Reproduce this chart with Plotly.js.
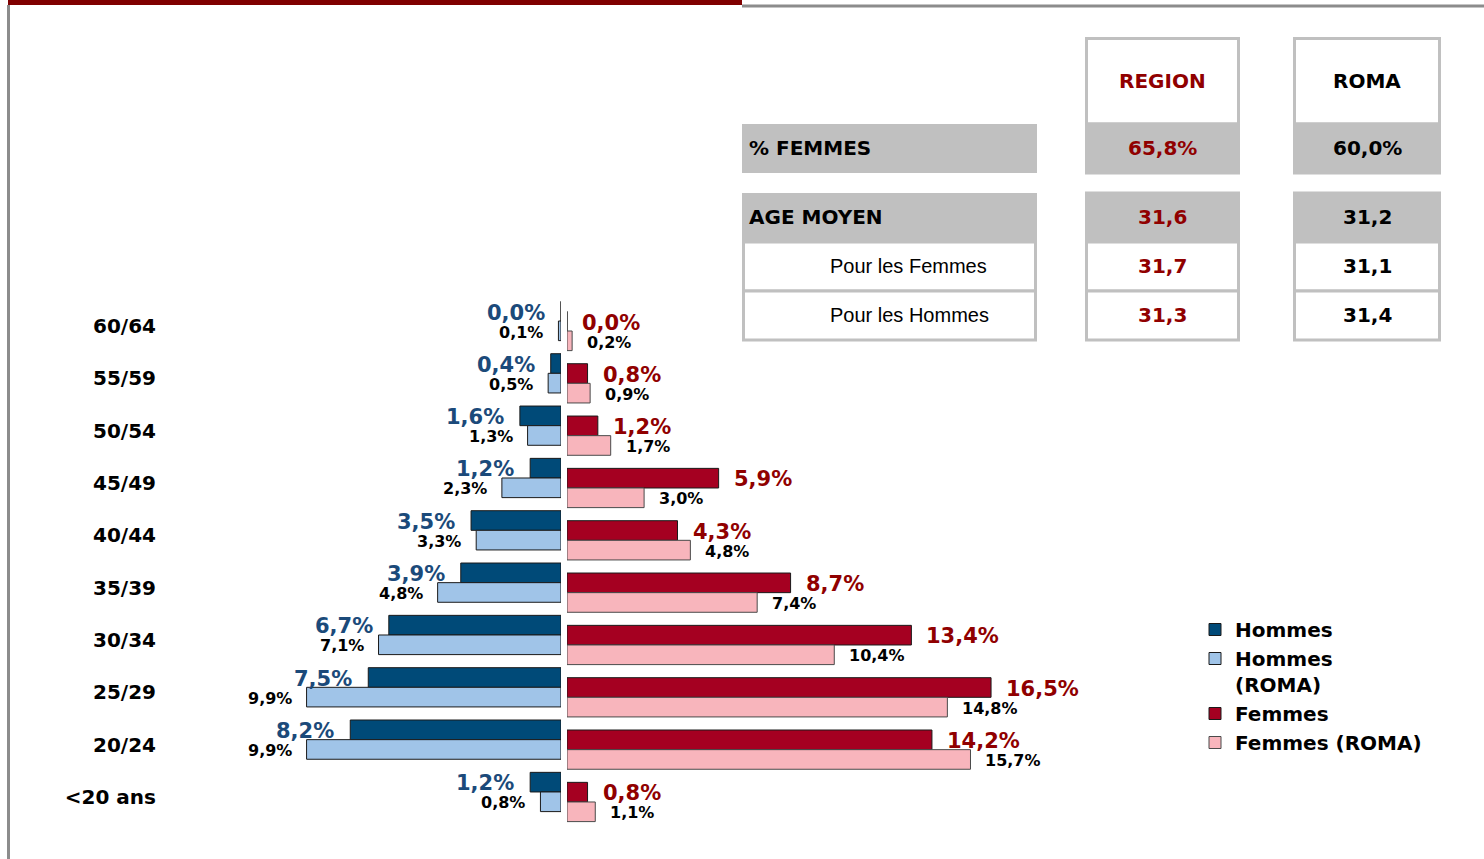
<!DOCTYPE html>
<html>
<head>
<meta charset="utf-8">
<script src="https://cdn.plot.ly/plotly-3.0.1.min.js"></script>
<style>
  html, body { margin: 0; padding: 0; background: #fff; }
  #chart { width: 1484px; height: 859px; }
</style>
</head>
<body>
<div id="chart"></div>
<script>
// ---------- DATA ----------
const categories = ['60/64','55/59','50/54','45/49','40/44','35/39','30/34','25/29','20/24','<20 ans'];
const hommes     = [0.0, 0.4, 1.6, 1.2, 3.5, 3.9, 6.7, 7.5, 8.2, 1.2];
const hommesRoma = [0.1, 0.5, 1.3, 2.3, 3.3, 4.8, 7.1, 9.9, 9.9, 0.8];
const femmes     = [0.0, 0.8, 1.2, 5.9, 4.3, 8.7, 13.4, 16.5, 14.2, 0.8];
const femmesRoma = [0.2, 0.9, 1.7, 3.0, 4.8, 7.4, 10.4, 14.8, 15.7, 1.1];

const seriesNames = ['Hommes', 'Hommes<br>(ROMA)', 'Femmes', 'Femmes (ROMA)'];

const tableColumns = ['REGION', 'ROMA'];
const tableRows    = ['% FEMMES', 'AGE MOYEN', 'Pour les Femmes', 'Pour les Hommes'];
const regionVals   = ['65,8%', '31,6', '31,7', '31,3'];
const romaVals     = ['60,0%', '31,2', '31,1', '31,4'];

// ---------- STYLE / LAYOUT HELPERS ----------
const W = 1484, H = 859;
const px = x => x / W;
const py = y => 1 - y / H;
const fmt = v => v.toFixed(1).replace('.', ',') + '%';

const C = {
  hDark: '#004A78', hLight: '#A0C4E8',
  fDark: '#A50021', fLight: '#F8B5BC',
  hText: '#1B4A7A', fText: '#900000',
  grey: '#C0C0C0', frame: '#8C8C8C'
};
const BOLD = 'DejaVu Sans';
const PXPERPCT = 25.7;

// axes geometry (pixels)
const menLeft = 180, menRight = 561;
const womLeft = 567, womRight = 1160;
const step = 52.33;
const menTop = 321 - step / 2, womTop = 331 - step / 2;

const traces = [
  { type: 'bar', orientation: 'h', name: seriesNames[0], y: categories, x: hommes,
    xaxis: 'x', yaxis: 'y', marker: { color: C.hDark, line: { color: '#1a1a1a', width: 1 } } },
  { type: 'bar', orientation: 'h', name: seriesNames[1], y: categories, x: hommesRoma,
    xaxis: 'x', yaxis: 'y', marker: { color: C.hLight, line: { color: '#1a1a1a', width: 1 } } },
  { type: 'bar', orientation: 'h', name: seriesNames[2], y: categories, x: femmes,
    xaxis: 'x2', yaxis: 'y2', marker: { color: C.fDark, line: { color: '#1a1a1a', width: 1 } } },
  { type: 'bar', orientation: 'h', name: seriesNames[3], y: categories, x: femmesRoma,
    xaxis: 'x2', yaxis: 'y2', marker: { color: C.fLight, line: { color: '#4a4a4a', width: 1 } } }
];

// ---------- ANNOTATIONS (value labels) ----------
const annotations = [];
categories.forEach((c, i) => {
  annotations.push({ x: hommes[i], y: c, xref: 'x', yref: 'y', text: fmt(hommes[i]),
    showarrow: false, xanchor: 'right', yanchor: 'middle', xshift: -14, yshift: 8.5,
    font: { family: BOLD, size: 21, weight: 'bold', color: C.hText } });
  annotations.push({ x: hommesRoma[i], y: c, xref: 'x', yref: 'y', text: fmt(hommesRoma[i]),
    showarrow: false, xanchor: 'right', yanchor: 'middle', xshift: -13, yshift: -11,
    font: { family: BOLD, size: 16, weight: 'bold', color: '#000' } });
  annotations.push({ x: femmes[i], y: c, xref: 'x2', yref: 'y2', text: fmt(femmes[i]),
    showarrow: false, xanchor: 'left', yanchor: 'middle', xshift: 13, yshift: 8.5,
    font: { family: BOLD, size: 21, weight: 'bold', color: C.fText } });
  annotations.push({ x: femmesRoma[i], y: c, xref: 'x2', yref: 'y2', text: fmt(femmesRoma[i]),
    showarrow: false, xanchor: 'left', yanchor: 'middle', xshift: 13, yshift: -11,
    font: { family: BOLD, size: 16, weight: 'bold', color: '#000' } });
});

// ---------- TABLE (shapes + text) ----------
const shapes = [];
const rect = (x0, y0, x1, y1, fill, border) => shapes.push({
  type: 'rect', xref: 'paper', yref: 'paper', layer: 'below',
  x0: px(x0), x1: px(x1), y0: py(y1), y1: py(y0),
  fillcolor: fill, line: { color: border || fill, width: border ? 3 : 0 }
});
const colX = [[1086.5, 1238.5], [1294.5, 1439.5]];
const labelX = [742, 1037];
const rowY = [[124, 173], [193, 242], [242, 291], [291, 340]];
const rowFill = [C.grey, C.grey, '#fff', '#fff'];

// header cells
colX.forEach(([a, b]) => rect(a, 38.5, b, 124, '#fff', C.grey));
// body cells
rowY.forEach(([t, b], r) => {
  if (rowFill[r] === '#fff') rect(labelX[0] + 1.5, t, labelX[1] - 1.5, b, '#fff', C.grey);
  else rect(labelX[0], t, labelX[1], b, C.grey);
  colX.forEach(([a, bb]) => rect(a, t, bb, b, rowFill[r], C.grey));
});

const paperText = (x, y, text, opts) => annotations.push(Object.assign({
  xref: 'paper', yref: 'paper', x: px(x), y: py(y), text, showarrow: false,
  xanchor: 'center', yanchor: 'middle',
  font: { family: BOLD, size: 20, weight: 'bold', color: '#000' }
}, opts || {}));

const colCenters = colX.map(([a, b]) => (a + b) / 2);
paperText(colCenters[0], 81, tableColumns[0], { font: { family: BOLD, size: 20, weight: 'bold', color: C.fText } });
paperText(colCenters[1], 81, tableColumns[1]);
rowY.forEach(([t, b], r) => {
  const yc = (t + b) / 2 - 1;
  if (r < 2) paperText(747, yc, tableRows[r], { xanchor: 'left' });
  else paperText(828, yc, tableRows[r], { xanchor: 'left',
        font: { family: 'Liberation Sans', size: 20, color: '#000' } });
  paperText(colCenters[0], yc, regionVals[r], { font: { family: BOLD, size: 20, weight: 'bold', color: C.fText } });
  paperText(colCenters[1], yc, romaVals[r]);
});

// ---------- FRAME ----------
shapes.push({ type: 'rect', xref: 'paper', yref: 'paper', x0: px(8), x1: px(742), y0: py(5), y1: py(0),
  fillcolor: '#800000', line: { width: 0 } });
shapes.push({ type: 'line', xref: 'paper', yref: 'paper', x0: px(742), x1: px(1484), y0: py(6), y1: py(6),
  line: { color: C.frame, width: 3 } });
shapes.push({ type: 'line', xref: 'paper', yref: 'paper', x0: px(8.5), x1: px(8.5), y0: py(5), y1: py(859),
  line: { color: C.frame, width: 3 } });

// ---------- LAYOUT ----------
const layout = {
  width: W, height: H,
  margin: { l: 0, r: 0, t: 0, b: 0 },
  paper_bgcolor: '#fff', plot_bgcolor: 'rgba(0,0,0,0)',
  barmode: 'group', bargap: 0.25, bargroupgap: 0,
  showlegend: true,
  legend: {
    x: px(1195), y: py(610), xanchor: 'left', yanchor: 'top',
    bgcolor: 'rgba(0,0,0,0)', valign: 'top', tracegroupgap: 0,
    font: { family: BOLD, size: 20, weight: 'bold', color: '#000' }
  },
  xaxis: { domain: [px(menLeft), px(menRight)], range: [(menRight - menLeft) / PXPERPCT, 0],
    visible: false, fixedrange: true },
  xaxis2: { domain: [px(womLeft), px(womRight)], range: [0, (womRight - womLeft) / PXPERPCT],
    visible: false, fixedrange: true },
  yaxis: { domain: [py(menTop + 10 * step), py(menTop)], type: 'category',
    categoryorder: 'array', categoryarray: categories, autorange: 'reversed',
    anchor: 'free', position: px(156), side: 'left',
    showgrid: false, zeroline: false, showline: false, ticks: '',
    ticklabelshift: -5, ticklabelstandoff: 0,
    tickfont: { family: BOLD, size: 20, weight: 'bold', color: '#000' } },
  yaxis2: { domain: [py(womTop + 10 * step), py(womTop)], type: 'category',
    categoryorder: 'array', categoryarray: categories, autorange: 'reversed',
    anchor: 'x2', visible: false },
  shapes, annotations,
  font: { family: BOLD }
};

Plotly.newPlot('chart', traces, layout, { staticPlot: true, displayModeBar: false });
</script>
</body>
</html>
